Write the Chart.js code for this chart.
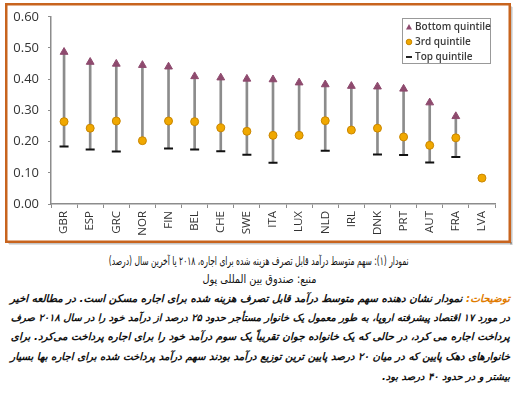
<!DOCTYPE html>
<html>
<head>
<meta charset="utf-8">
<script src="https://cdn.jsdelivr.net/npm/chart.js@4.4.1/dist/chart.umd.min.js"></script>
<style>
  body { margin: 0; background: #fff; width: 517px; height: 400px; position: relative; overflow: hidden; }
  #myChart { position: absolute; left: 0; top: 0; display: block; }
  .fa { position: absolute; left: 8px; width: 502px; direction: rtl;
        font-family: "DejaVu Sans", sans-serif; color: #111; white-space: nowrap; }
  .fa span.t { display: inline-block; }
  .cap { text-align: center; }
  .cap span.t { transform-origin: 50% 50%; }
  .par { font-style: italic; font-weight: bold; text-align: right; }
  .lbl { color: #e07b00; }
</style>
</head>
<body>
<canvas id="myChart" width="517" height="247"></canvas>

<div class="fa cap" style="top:250px" data-w="300"><span class="t">نمودار (۱): سهم متوسط درآمد قابل تصرف هزینه شده برای اجاره، ۲۰۱۸ یا آخرین سال (درصد)</span></div>
<div class="fa cap" style="top:268px" data-w="114"><span class="t">منبع: صندوق بین المللی پول</span></div>
<div class="fa par" style="top:287px" data-w="500"><span class="t"><span class="lbl">توضیحات:</span> نمودار نشان دهنده سهم متوسط درآمد قابل تصرف هزینه شده برای اجاره مسکن است. در مطالعه اخیر</span></div>
<div class="fa par" style="top:306px" data-w="500"><span class="t">در مورد ۱۷ اقتصاد پیشرفته اروپا، به طور معمول یک خانوار مستأجر حدود ۲۵ درصد از درآمد خود را در سال ۲۰۱۸ صرف</span></div>
<div class="fa par" style="top:325px" data-w="500"><span class="t">پرداخت اجاره می کرد، در حالی که یک خانواده جوان تقریباً یک سوم درآمد خود را برای اجاره پرداخت می‌کرد. برای</span></div>
<div class="fa par" style="top:345px" data-w="500"><span class="t">خانوارهای دهک پایین که در میان ۲۰ درصد پایین ترین توزیع درآمد بودند سهم درآمد پرداخت شده برای اجاره بها بسیار</span></div>
<div class="fa par" style="top:365px" data-w="0"><span class="t">بیشتر و در حدود ۴۰ درصد بود.</span></div>

<script>
// values (share of disposable income spent on rent)
var countries = ["GBR", "ESP", "GRC", "NOR", "FIN", "BEL", "CHE", "SWE", "ITA",
  "LUX", "NLD", "IRL", "DNK", "PRT", "AUT", "FRA", "LVA"];
var bottomQuintile = [0.487, 0.455, 0.449, 0.445, 0.440, 0.409, 0.405, 0.401, 0.399,
  0.389, 0.383, 0.378, 0.376, 0.369, 0.325, 0.281, null];
var thirdQuintile = [0.264, 0.243, 0.266, 0.203, 0.266, 0.264, 0.244, 0.233, 0.220,
  0.220, 0.267, 0.237, 0.243, 0.215, 0.188, 0.212, 0.083];
var topQuintile = [0.184, 0.175, 0.168, null, 0.178, 0.175, 0.169, 0.158, 0.132,
  null, 0.171, null, 0.159, 0.157, 0.133, 0.151, null];
var yTicks = [0, 0.1, 0.2, 0.3, 0.4, 0.5, 0.6];
var legendNames = ["Bottom quintile", "3rd quintile", "Top quintile"];

// fit the Persian lines to the width they take in the picture
var parSize = [];
document.querySelectorAll(".fa").forEach(function (el) {
  var w = +el.dataset.w;
  var t = el.querySelector(".t");
  if (el.classList.contains("cap")) {
    // caption font is narrow in the original: squeeze horizontally
    t.style.fontSize = "11.5px";
    var cw = t.getBoundingClientRect().width;
    t.style.transform = "scaleX(" + (w / cw) + ")";
    return;
  }
  if (!w) { t.style.fontSize = Math.min.apply(null, parSize) + "px"; return; }
  t.style.fontSize = "12px";
  var size = 12 * w / t.getBoundingClientRect().width;
  t.style.fontSize = size + "px";
  parSize.push(size);
});

// whisker from the lowest marker up to the bottom quintile
var ranges = countries.map(function (c, i) {
  if (bottomQuintile[i] == null) return null;
  var low = topQuintile[i] != null ? topQuintile[i] : thirdQuintile[i];
  return [low, bottomQuintile[i]];
});

var purple = "#8e4a6e";
var gold = "#f0a800";
var axisGrey = "#8c8c8c";

function box(c, x, y, w, h, t) {
  c.fillRect(x, y, w, t);
  c.fillRect(x, y + h - t, w, t);
  c.fillRect(x, y, t, h);
  c.fillRect(x + w - t, y, t, h);
}

// orange frame behind the chart, legend box on top
var framePlugin = {
  id: "frame",
  beforeDraw: function (chart) {
    var c = chart.ctx;
    c.save();
    c.fillStyle = "rgba(0,0,0,0.12)";
    c.fillRect(9, 242, 503, 3);
    c.fillRect(510, 7, 3, 238);
    c.fillRect(8, 242, 504, 2);
    c.fillRect(510, 6, 2, 238);
    c.fillStyle = "#c8641e";
    box(c, 5, 3, 506, 240, 2.5);
    c.restore();
  },
  afterDraw: function (chart) {
    var c = chart.ctx;
    c.save();
    c.fillStyle = "#fff";
    c.fillRect(402, 18, 89, 46);
    c.fillStyle = "#999";
    box(c, 402, 18, 89, 46, 1);
    c.font = "600 10px 'Open Sans'";
    c.fillStyle = "#3a3a3a";
    c.textBaseline = "middle";
    var ys = [27, 42, 57];
    legendNames.forEach(function (name, i) {
      c.fillText(name, 415, ys[i]);
    });
    // triangle
    c.fillStyle = purple;
    c.beginPath();
    c.moveTo(409, ys[0] - 3);
    c.lineTo(412, ys[0] + 2.5);
    c.lineTo(406, ys[0] + 2.5);
    c.closePath();
    c.fill();
    // circle
    c.beginPath();
    c.arc(409, ys[1], 2.8, 0, Math.PI * 2);
    c.fillStyle = gold;
    c.fill();
    c.strokeStyle = "#c98600";
    c.stroke();
    // dash
    c.fillStyle = "#222";
    c.fillRect(406, ys[2] - 1, 6, 2);
    c.restore();
  },
};

var ctx = document.getElementById("myChart");
var myChart = new Chart(ctx, {
  type: "bar",
  plugins: [framePlugin],
  data: {
    labels: countries,
    datasets: [
      {
        label: "range",
        data: ranges,
        backgroundColor: axisGrey,
        barThickness: 2,
        order: 10,
      },
      {
        type: "line",
        label: "Top quintile",
        data: topQuintile,
        showLine: false,
        pointStyle: "line",
        pointRadius: 4.5,
        pointBorderWidth: 2,
        pointBorderColor: "#111",
        order: 3,
      },
      {
        type: "line",
        label: "3rd quintile",
        data: thirdQuintile,
        showLine: false,
        pointStyle: "circle",
        pointRadius: 4,
        pointBorderWidth: 1,
        pointBackgroundColor: gold,
        pointBorderColor: "#c98600",
        order: 2,
      },
      {
        type: "line",
        label: "Bottom quintile",
        data: bottomQuintile,
        showLine: false,
        pointStyle: "triangle",
        pointRadius: 4.5,
        pointBorderWidth: 1,
        pointBackgroundColor: purple,
        pointBorderColor: purple,
        order: 1,
      },
    ],
  },
  options: {
    responsive: false,
    animation: false,
    layout: { autoPadding: false, padding: { top: 15, right: 22, left: 0, bottom: 0 } },
    plugins: {
      legend: { display: false },
      tooltip: { enabled: false },
    },
    scales: {
      x: {
        grid: {
          display: true,
          drawOnChartArea: false,
          tickLength: 4,
          color: axisGrey,
        },
        border: { display: true, color: axisGrey, width: 1.5 },
        ticks: {
          color: "#333",
          font: { family: "'Open Sans'", size: 11.5 },
          minRotation: 90,
          maxRotation: 90,
          padding: 3,
        },
        afterFit: function (scale) { scale.height = 43; },
      },
      y: {
        min: 0,
        max: 0.6,
        afterBuildTicks: function (scale) {
          scale.ticks = yTicks.map(function (v) { return { value: v }; });
        },
        grid: { display: true, drawOnChartArea: false, drawTicks: true, tickLength: 3, color: axisGrey },
        border: { display: true, color: axisGrey, width: 1.5 },
        ticks: {
          color: "#333",
          font: { family: "'Open Sans'", size: 13 },
          padding: 9,
          callback: function (v) { return Number(v).toFixed(2); },
        },
        afterFit: function (scale) { scale.width = 51; },
      },
    },
  },
});
</script>
</body>
</html>
